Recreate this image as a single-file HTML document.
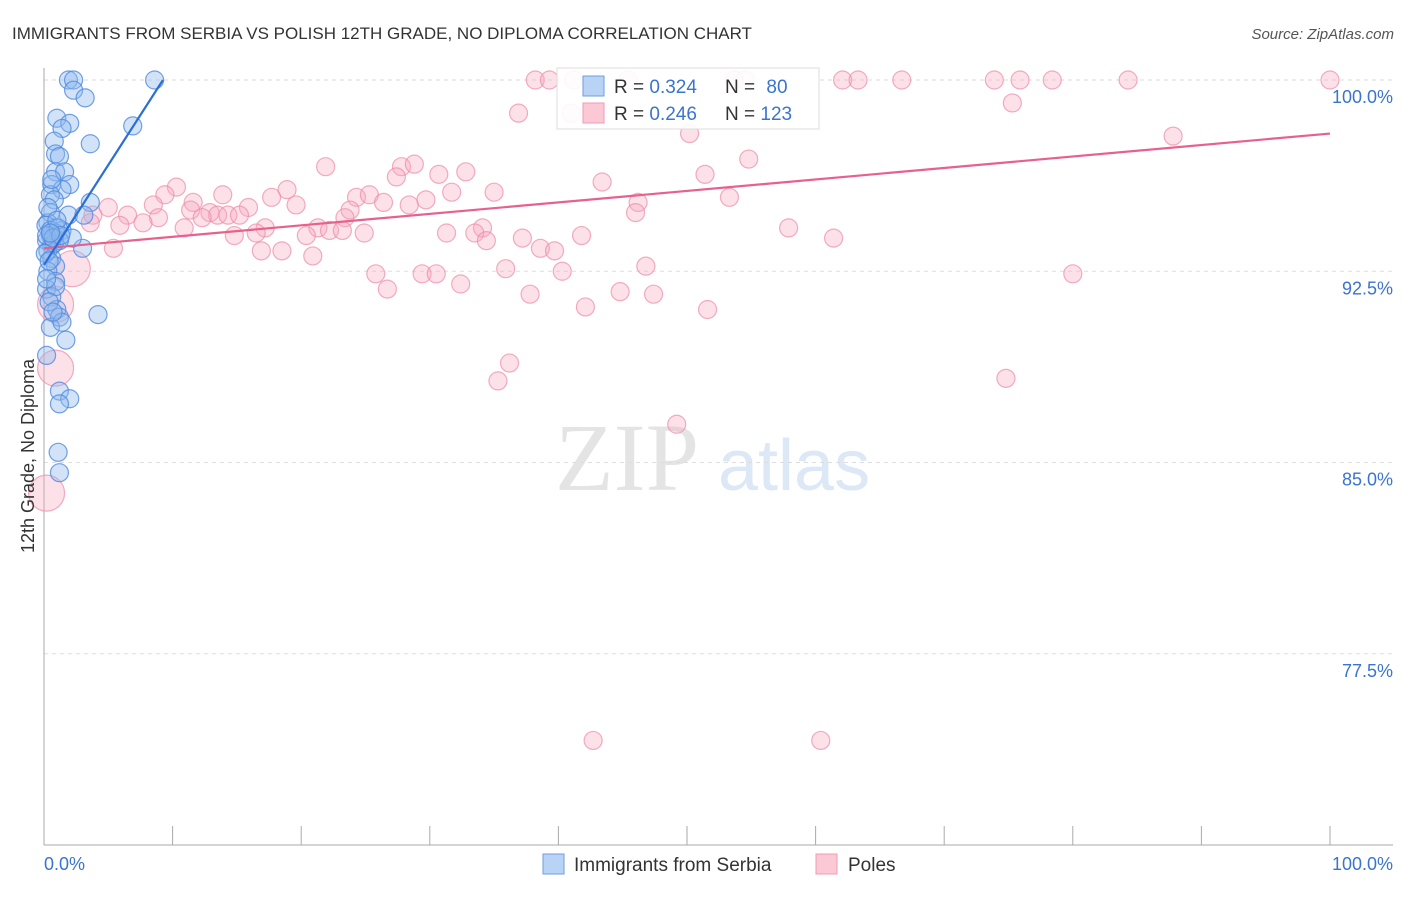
<!DOCTYPE html>
<html><head><meta charset="utf-8">
<style>
html,body{margin:0;padding:0;background:#fff;}
body{width:1406px;height:892px;overflow:hidden;font-family:"Liberation Sans",sans-serif;}
</style></head>
<body>
<svg id="chart" width="1406" height="892" xmlns="http://www.w3.org/2000/svg" font-family="Liberation Sans, sans-serif">
<text x="12" y="39" font-size="17" fill="#333">IMMIGRANTS FROM SERBIA VS POLISH 12TH GRADE, NO DIPLOMA CORRELATION CHART</text>
<text x="1394" y="39" font-size="15" fill="#555" text-anchor="end" font-style="italic">Source: ZipAtlas.com</text>
<g>
<text x="555" y="490" font-size="96" fill="#e4e4e4" font-family="Liberation Serif, serif">ZIP</text>
<text x="718" y="490" font-size="72" fill="#dce8f6">atlas</text>
</g>
<g id="grid"></g>
<g id="axes"></g>
<g id="pinkpts"></g>
<g id="bluepts"></g>
<g id="lines"></g>
<g>
<rect x="557" y="68" width="262" height="61" fill="#fff" fill-opacity="0.9" stroke="#ddd"/>
<rect x="583" y="76" width="21" height="20" fill="#b8d3f5" stroke="#6c9fe0"/>
<rect x="583" y="103" width="21" height="20" fill="#fbc8d6" stroke="#f09ab4"/>
<text x="614" y="93" font-size="19" fill="#333">R = <tspan fill="#3a74d0">0.324</tspan></text>
<text x="725" y="93" font-size="19" fill="#333">N = <tspan fill="#3a74d0" dx="6">80</tspan></text>
<text x="614" y="120" font-size="19" fill="#333">R = <tspan fill="#3a74d0">0.246</tspan></text>
<text x="725" y="120" font-size="19" fill="#333">N = <tspan fill="#3a74d0">123</tspan></text>
</g>
<g>
<rect x="543" y="854" width="21" height="20" fill="#b8d3f5" stroke="#6c9fe0"/>
<text x="574" y="871" font-size="19" fill="#333">Immigrants from Serbia</text>
<rect x="816" y="854" width="21" height="20" fill="#fbc8d6" stroke="#f09ab4"/>
<text x="848" y="871" font-size="19" fill="#333">Poles</text>
</g>
<text transform="translate(34,456) rotate(-90)" font-size="18" fill="#333" text-anchor="middle">12th Grade, No Diploma</text>
</svg>
<script>
const yTicks=[100,92.5,85,77.5];
const yTickLabels=["100.0%","92.5%","85.0%","77.5%"];
const xTickLabels=["0.0%","100.0%"];
const blueX=[1.9,2.3,8.6,2.3,3.2,1.0,2.0,1.4,6.9,0.8,3.6,0.9,1.2,0.9,1.6,0.6,2.0,1.4,0.5,0.8,3.6,0.5,1.9,3.1,0.3,0.9,1.4,0.5,0.9,0.2,0.6,3.0,2.2,1.2,0.3,0.6,0.9,0.3,0.9,0.2,0.6,1.0,1.2,4.2,0.5,1.7,0.2,1.2,2.0,1.2,1.1,1.2,0.15,0.5,0.8,0.2,1.1,0.1,0.7,0.4,0.9,1.4,0.3,0.6,1.0,0.2,0.4,0.7,1.3,0.5];
const blueY=[100,100,100,99.6,99.3,98.5,98.3,98.1,98.2,97.6,97.5,97.1,97.0,96.4,96.4,95.9,95.9,95.7,95.5,95.3,95.2,94.8,94.7,94.7,94.4,94.2,94.1,93.9,94.0,93.7,93.5,93.4,93.8,93.7,93.3,93.0,92.7,92.5,92.1,91.8,91.5,91.0,90.7,90.8,90.3,89.8,89.2,87.8,87.5,87.3,85.4,84.6,94.3,94.1,93.6,93.9,94.2,93.2,93.8,92.9,91.9,90.5,95.0,96.1,94.5,92.2,91.3,90.9,93.9,94.0];
const pinkX=[2.2,0.9,0.9,0.2,38.2,39.3,41.2,45.4,53.7,54.5,62.1,63.3,66.7,73.9,75.9,78.4,84.3,100,36.9,41,50.2,75.3,87.8,54.8,21.9,27.8,28.8,27.4,30.7,32.8,43.4,51.4,10.3,9.4,18.9,31.7,35,13.9,17.7,24.3,25.3,11.6,19.6,26.4,28.4,29.7,53.3,46.2,5,8.5,15.9,11.4,23.8,46,3.8,6.5,8.9,12.9,13.5,14.3,15.2,12.3,23.4,3.6,5.9,7.7,10.9,17.2,21.3,22.2,23.2,31.3,34.1,33.5,57.9,14.8,16.5,20.4,24.9,37.2,41.8,61.4,34.4,38.6,39.7,5.4,16.9,18.5,20.9,35.9,40.3,46.8,25.8,29.4,30.5,80,32.4,26.7,37.8,44.8,47.4,42.1,51.6,36.2,35.3,74.8,49.2,42.7,60.4];
const pinkY=[92.6,91.2,88.7,83.8,100,100,100,100,100,100,100,100,100,100,100,100,100,100,98.7,98.7,97.9,99.1,97.8,96.9,96.6,96.6,96.7,96.2,96.3,96.4,96.0,96.3,95.8,95.5,95.7,95.6,95.6,95.5,95.4,95.4,95.5,95.2,95.1,95.2,95.1,95.3,95.4,95.2,95,95.1,95.0,94.9,94.9,94.8,94.7,94.7,94.6,94.8,94.7,94.7,94.7,94.6,94.6,94.4,94.3,94.4,94.2,94.2,94.2,94.1,94.1,94.0,94.2,94.0,94.2,93.9,94.0,93.9,94.0,93.8,93.9,93.8,93.7,93.4,93.3,93.4,93.3,93.3,93.1,92.6,92.5,92.7,92.4,92.4,92.4,92.4,92.0,91.8,91.6,91.7,91.6,91.1,91.0,88.9,88.2,88.3,86.5,74.1,74.1];
const pinkR=[18,18,18,18];
const blueLine=[[0,92.75],[9.25,100]];
const pinkLine=[[0,93.4],[100,97.9]];

const NS="http://www.w3.org/2000/svg";
const xs=v=>44+v*12.86;
const ys=v=>80+(100-v)*25.5;
function mk(tag,attrs,parent){const e=document.createElementNS(NS,tag);for(const k in attrs)e.setAttribute(k,attrs[k]);parent.appendChild(e);return e;}
const grid=document.getElementById('grid'),axes=document.getElementById('axes');
yTicks.forEach((t,i)=>{
  const g=mk('line',{x1:44,x2:1393,y1:ys(t),y2:ys(t),stroke:'#ddd','stroke-dasharray':'4,4'},grid);
  
  
  const tx=mk('text',{x:1393,y:ys(t)+23,'font-size':18,fill:'#3a74d0','text-anchor':'end'},axes);
  tx.textContent=yTickLabels[i];
  
  
});
const ax=mk('line',{x1:44,x2:44,y1:68,y2:845,stroke:'#aaa'},axes);


const bx=mk('line',{x1:44,x2:1393,y1:845,y2:845,stroke:'#aaa'},axes);


for(let i=0;i<=10;i++){
  const t=mk('line',{x1:xs(i*10),x2:xs(i*10),y1:826,y2:845,stroke:'#aaa'},axes);
  
  
}
[[0,'start',44],[1,'end',1393]].forEach(([i,a,x])=>{
  const t=mk('text',{x:x,y:870,'font-size':18,fill:'#3a74d0','text-anchor':a},axes);
  t.textContent=xTickLabels[i];
  
  
});
const pp=document.getElementById('pinkpts');
pinkX.forEach((x,i)=>{
  const c=mk('circle',{cx:xs(x),cy:ys(pinkY[i]),r:pinkR[i]||9,fill:'#f7a8c0','fill-opacity':0.35,stroke:'#ee8aa8','stroke-opacity':0.7,'stroke-width':1.2},pp);
  
  
});
const bp=document.getElementById('bluepts');
blueX.forEach((x,i)=>{
  const c=mk('circle',{cx:xs(x),cy:ys(blueY[i]),r:9,fill:'#8fb8ee','fill-opacity':0.4,stroke:'#4f8ae0','stroke-opacity':0.8,'stroke-width':1.2},bp);
  
  
});
const lg=document.getElementById('lines');
const l1=mk('line',{x1:xs(pinkLine[0][0]),y1:ys(pinkLine[0][1]),x2:xs(pinkLine[1][0]),y2:ys(pinkLine[1][1]),stroke:'#e8608c','stroke-width':2.2},lg);


const l2=mk('line',{x1:xs(blueLine[0][0]),y1:ys(blueLine[0][1]),x2:xs(blueLine[1][0]),y2:ys(blueLine[1][1]),stroke:'#2b6fd6','stroke-width':2.2},lg);


</script>
</body></html>
